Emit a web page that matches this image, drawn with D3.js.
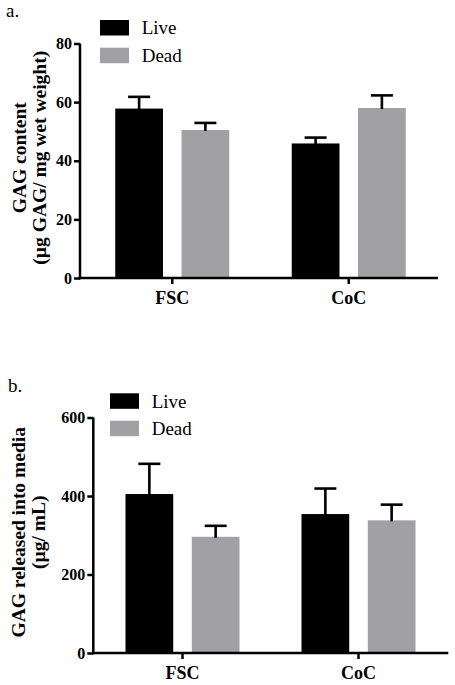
<!DOCTYPE html>
<html>
<head>
<meta charset="utf-8">
<script src="https://cdn.jsdelivr.net/npm/d3@7"></script>
<style>
html,body{margin:0;padding:0;background:#fff;}
svg{display:block;}
</style>
</head>
<body>
<svg id="chart" width="455" height="685"></svg>
<script>
// ---- data ----
const categories = ["FSC", "CoC"];
const seriesNames = ["Live", "Dead"];
const seriesColors = ["#000000", "#a1a0a5"];

const contentLive = [57.8, 45.9];
const contentLiveErr = [4.0, 2.0];
const contentDead = [50.5, 58.0];
const contentDeadErr = [2.4, 4.3];

const releasedLive = [405, 354];
const releasedLiveErr = [77, 65];
const releasedDead = [296, 338];
const releasedDeadErr = [28, 40];

const ticksA = [0, 20, 40, 60, 80];
const ticksB = [0, 200, 400, 600];

const panels = [
  {
    label: "a.", labelX: 6, labelY: 17,
    titleLines: ["GAG content", "(µg GAG/ mg wet weight)"],
    titleX: [26, 46],
    ticks: ticksA, max: 80,
    values: [contentLive, contentDead], errs: [contentLiveErr, contentDeadErr],
    axisX: 80, xEnd: 438, bandRange: [84, 437], y0: 278, yTop: 43.5,
    legX: 100, legY: [20, 47.7], legTextX: 141.7, legTextY: [34.3, 61.7]
  },
  {
    label: "b.", labelX: 8, labelY: 392,
    titleLines: ["GAG released into media", "(µg/ mL)"],
    titleX: [25, 45],
    ticks: ticksB, max: 600,
    values: [releasedLive, releasedDead], errs: [releasedLiveErr, releasedDeadErr],
    axisX: 93.3, xEnd: 448.3, bandRange: [94.5, 446.5], y0: 653, yTop: 417.5,
    legX: 110, legY: [393.3, 420.7], legTextX: 151.7, legTextY: [407.7, 435]
  }
];

const svg = d3.select("#chart");
const serif = "'Liberation Serif','Times New Roman',Times,serif";

panels.forEach(p => {
  const g = svg.append("g");
  const y = d3.scaleLinear().domain([0, p.max]).range([p.y0, p.yTop]);
  const x = d3.scaleBand().domain(categories).range(p.bandRange).paddingInner(0).paddingOuter(0);
  const xi = d3.scaleBand().domain(seriesNames).range([-57, 57]).paddingInner(0.28).paddingOuter(0);

  // bars
  seriesNames.forEach((s, si) => {
    categories.forEach((c, ci) => {
      const v = p.values[si][ci], e = p.errs[si][ci];
      const bx = x(c) + x.bandwidth() / 2 + xi(s);
      const cx = bx + xi.bandwidth() / 2;
      g.append("rect")
        .attr("x", bx).attr("y", y(v))
        .attr("width", xi.bandwidth()).attr("height", p.y0 - y(v))
        .attr("fill", seriesColors[si]);
      // error bar (upper only)
      g.append("line")
        .attr("x1", cx).attr("x2", cx)
        .attr("y1", y(v) + 1).attr("y2", y(v + e))
        .attr("stroke", "#000").attr("stroke-width", 2.6);
      g.append("line")
        .attr("x1", cx - 11).attr("x2", cx + 11)
        .attr("y1", y(v + e)).attr("y2", y(v + e))
        .attr("stroke", "#000").attr("stroke-width", 2.6);
    });
  });

  // y axis
  const yAxis = d3.axisLeft(y).tickValues(p.ticks).tickSize(6).tickSizeOuter(0).tickPadding(2)
    .tickFormat(d3.format("d"));
  const ya = g.append("g").attr("transform", `translate(${p.axisX},0)`).call(yAxis)
    .attr("font-family", serif);
  ya.select(".domain").remove();
  ya.selectAll(".tick line").attr("stroke", "#000").attr("stroke-width", 2.5);
  ya.selectAll(".tick text")
    .attr("font-family", serif).attr("font-weight", "bold").attr("font-size", 16)
    .attr("fill", "#000");
  g.append("line")
    .attr("x1", p.axisX).attr("x2", p.axisX)
    .attr("y1", p.y0 + 1.25).attr("y2", p.yTop)
    .attr("stroke", "#000").attr("stroke-width", 2.5);

  // x axis
  const xAxis = d3.axisBottom(x).tickSize(6).tickSizeOuter(0).tickPadding(8);
  const xa = g.append("g").attr("transform", `translate(0,${p.y0})`).call(xAxis)
    .attr("font-family", serif);
  xa.select(".domain").remove();
  xa.selectAll(".tick line").attr("stroke", "#000").attr("stroke-width", 2.5);
  xa.selectAll(".tick text")
    .attr("font-family", serif).attr("font-weight", "bold").attr("font-size", 18)
    .attr("fill", "#000").attr("dy", "0.68em");
  g.append("line")
    .attr("x1", p.axisX - 1.25).attr("x2", p.xEnd)
    .attr("y1", p.y0).attr("y2", p.y0)
    .attr("stroke", "#000").attr("stroke-width", 2.5);

  // y title
  const cy = (p.y0 + p.yTop) / 2 - 3;
  p.titleLines.forEach((t, i) => {
    g.append("text")
      .attr("transform", `translate(${p.titleX[i]},${cy}) rotate(-90)`)
      .attr("text-anchor", "middle")
      .attr("font-family", serif).attr("font-weight", "bold").attr("font-size", 19.5)
      .attr("fill", "#000").text(t);
  });

  // panel label
  g.append("text").attr("x", p.labelX).attr("y", p.labelY)
    .attr("font-family", serif).attr("font-size", 19).attr("fill", "#000").text(p.label);

  // legend
  seriesNames.forEach((s, si) => {
    g.append("rect").attr("x", p.legX).attr("y", p.legY[si])
      .attr("width", 29).attr("height", 15.5).attr("fill", seriesColors[si]);
    g.append("text").attr("x", p.legTextX).attr("y", p.legTextY[si])
      .attr("font-family", serif).attr("font-size", 19).attr("fill", "#000").text(s);
  });
});
</script>
</body>
</html>
